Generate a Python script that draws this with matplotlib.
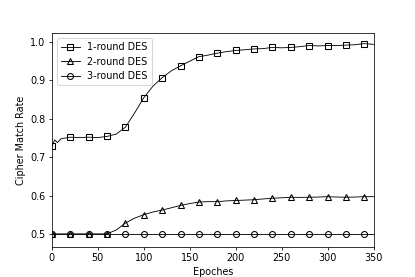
import matplotlib
matplotlib.use("Agg")
import matplotlib.pyplot as plt
import numpy as np

epochs1 = [0, 3, 6, 10, 20, 30, 40, 50, 60, 70, 80, 90, 100, 110, 120, 130, 140, 150,
           160, 170, 180, 190, 200, 210, 220, 230, 240, 250, 260, 270, 280, 290, 300,
           310, 320, 330, 340, 350]
round1 = [0.728, 0.745, 0.738, 0.748, 0.752, 0.751, 0.752, 0.751, 0.754, 0.760, 0.778,
          0.815, 0.855, 0.885, 0.907, 0.925, 0.938, 0.950, 0.962, 0.966, 0.971, 0.975,
          0.978, 0.980, 0.982, 0.983, 0.986, 0.985, 0.986, 0.988, 0.991, 0.990, 0.991,
          0.991, 0.992, 0.993, 0.996, 0.994]

epochs2 = list(range(0, 351, 10))
round2 = [0.5, 0.5, 0.5, 0.5, 0.5, 0.5, 0.5, 0.51, 0.528, 0.541, 0.55, 0.557, 0.562,
          0.568, 0.574, 0.579, 0.583, 0.584, 0.584, 0.586, 0.587, 0.588, 0.589, 0.591,
          0.593, 0.594, 0.5955, 0.595, 0.5955, 0.596, 0.597, 0.596, 0.5955, 0.596,
          0.597, 0.597]

epochs3 = list(range(0, 351, 10))
round3 = [0.5] * len(epochs3)

labels = ["1-round DES", "2-round DES", "3-round DES"]
markers = ["s", "^", "o"]

fig = plt.figure(figsize=(6, 4.005), dpi=415 / 6)
ax = fig.add_subplot(111)

for ep, vals, lab, mk in zip([epochs1, epochs2, epochs3], [round1, round2, round3], labels, markers):
    me = [i for i, e in enumerate(ep) if e % 20 == 0 and e < 350]
    ax.plot(ep, vals, color="black", lw=0.9, marker=mk, markevery=me,
            markersize=6.2, markerfacecolor="none", markeredgecolor="black",
            markeredgewidth=1.1, label=lab)

ax.set_xlim(0, 350)
ax.set_ylim(0.467, 1.023)
ax.set_xticks([0, 50, 100, 150, 200, 250, 300, 350])
ax.set_yticks([0.5, 0.6, 0.7, 0.8, 0.9, 1.0])
ax.set_xlabel("Epoches")
ax.set_ylabel("Cipher Match Rate")
ax.legend(loc="upper left")

fig.savefig("out.png", dpi=415 / 6)
